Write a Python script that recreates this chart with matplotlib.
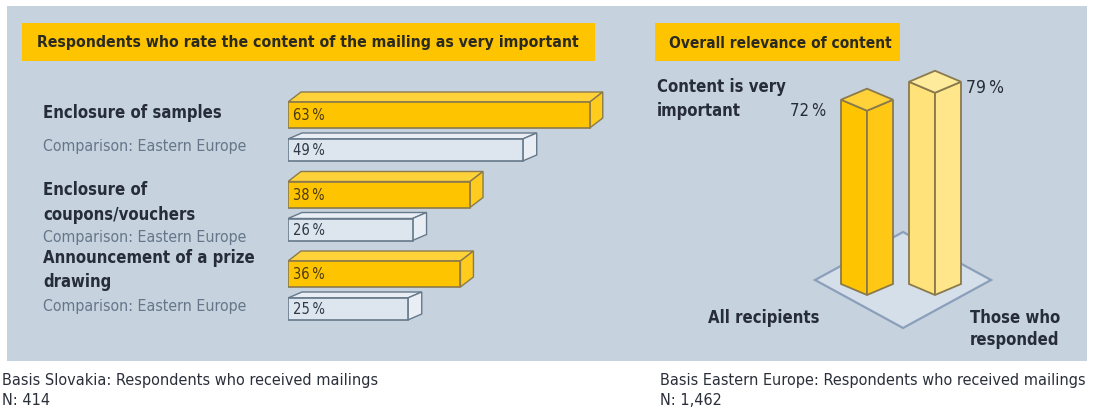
import matplotlib
matplotlib.use("Agg")
import matplotlib.pyplot as plt
from matplotlib.patches import Rectangle, Polygon

# ---------------------------------------------------------------- data
categories = ["Enclosure of samples",
              "Enclosure of\ncoupons/vouchers",
              "Announcement of a prize\ndrawing"]
slovakia = [63, 38, 36]
eastern_europe = [49, 26, 25]
comparison_label = "Comparison: Eastern Europe"

groups = ["All recipients", "Those who\nresponded"]
relevance = [72, 79]

left_title = "Respondents who rate the content of the mailing as very important"
right_title = "Overall relevance of content"
right_caption = "Content is very\nimportant"
left_note = ["Basis Slovakia: Respondents who received mailings", "N: 414"]
right_note = ["Basis Eastern Europe: Respondents who received mailings", "N: 1,462"]

# ---------------------------------------------------------------- style
W, H, DPI = 1093, 414, 100
plt.rcParams["font.family"] = ["DejaVu Sans"]
COND = dict(fontstretch="condensed")

PANEL = "#c6d3de"
GOLD = "#ffc400"
GOLD_TOP = "#ffd23a"
GOLD_SIDE = "#ffcb1c"
PALE = "#ffe27a"
PALE_TOP = "#ffeb9c"
PALE_SIDE = "#ffe68a"
GREY_FACE = "#dde5ee"
GREY_SIDE = "#e8eef4"
EDGE_GOLD = "#8a7a4c"
EDGE_GREY = "#66788a"
INK = "#262c38"
SUBINK = "#66768a"


def fig_rect(x0, y0, x1, y1):
    """Pixel box (top-left origin) -> figure fraction rect."""
    return [x0 / W, 1 - y1 / H, (x1 - x0) / W, (y1 - y0) / H]


fig = plt.figure(figsize=(W / DPI, H / DPI), dpi=DPI, facecolor="white")

# background canvas in pixel units
cv = fig.add_axes([0, 0, 1, 1])
cv.set_xlim(0, W)
cv.set_ylim(H, 0)
cv.axis("off")
cv.add_patch(Rectangle((7, 7), 1080, 355, facecolor=PANEL, edgecolor="none"))

# title boxes
cv.add_patch(Rectangle((22, 24), 573, 38, facecolor=GOLD, edgecolor="none"))
cv.text(37, 43, left_title, fontsize=11.3, fontweight="bold", color="#2a2a20",
        va="center", ha="left", **COND)
cv.add_patch(Rectangle((655, 24), 245, 38, facecolor=GOLD, edgecolor="none"))
cv.text(669, 43, right_title, fontsize=11.1, fontweight="bold", color="#2a2a20",
        va="center", ha="left", **COND)

# ---------------------------------------------------------------- left: horizontal 3D bars
PX_PCT = 4.79        # pixels per percent
ROW = 79.5           # pixels between groups
Y0 = 116             # pixel centre of the first group's main bar
X_AX0, X_AX1 = 288, 288 + PX_PCT * 70
Y_AX0, Y_AX1 = 60, 340
axl = fig.add_axes(fig_rect(X_AX0, Y_AX0, X_AX1, Y_AX1))
axl.set_xlim(0, 70)
axl.set_ylim((Y_AX1 - Y0) / ROW, (Y_AX0 - Y0) / ROW)
axl.axis("off")
axl.patch.set_visible(False)

h_main = 26 / ROW
h_comp = 22 / ROW
comp_off = 35 / ROW


def bar3d(ax, y, v, h, face, top, side, edge, dx_px, dy_px):
    dx = dx_px / PX_PCT
    dy = dy_px / ROW
    ax.barh([y], [v], height=h, left=0, color=face, edgecolor=edge,
            linewidth=1.2, zorder=3)
    yt = y - h / 2
    yb = y + h / 2
    ax.add_patch(Polygon([(0, yt), (v, yt), (v + dx, yt - dy), (dx, yt - dy)],
                         closed=True, facecolor=top, edgecolor=edge,
                         linewidth=1.0, zorder=2))
    ax.add_patch(Polygon([(v, yt), (v, yb), (v + dx, yb - dy), (v + dx, yt - dy)],
                         closed=True, facecolor=side, edgecolor=edge,
                         linewidth=1.0, zorder=2))


for i, (sk, ee) in enumerate(zip(slovakia, eastern_europe)):
    bar3d(axl, i + comp_off, ee, h_comp, GREY_FACE, GREY_SIDE, GREY_SIDE,
          EDGE_GREY, 14, 6)
    bar3d(axl, i, sk, h_main, GOLD, GOLD_TOP, GOLD_SIDE, EDGE_GOLD, 13, 10)
    axl.text(1.0, i, f"{sk}\u2009%", fontsize=10.5, color="#4a3a10",
             va="center", ha="left", zorder=5, **COND)
    axl.text(1.0, i + comp_off, f"{ee}\u2009%", fontsize=10.5, color="#2e3a48",
             va="center", ha="left", zorder=5, **COND)

# category labels
label_y = [113, 202.5, 270]
comp_y = [147, 238, 307]
for lab, ly, cy in zip(categories, label_y, comp_y):
    cv.text(43, ly, lab, fontsize=12, color=INK, va="center", ha="left",
            linespacing=1.45, fontweight="bold", **COND)
    cv.text(43, cy, comparison_label, fontsize=11.4, color=SUBINK,
            va="center", ha="left", **COND)

# ---------------------------------------------------------------- right: 3D columns
RPX = 2.56           # pixels per percent
BASE_Y = 296         # pixel row of value 0
COL0, COL_STEP = 867, 68
RX0, RX1, RY0, RY1 = 760, 1040, 40, 340
axr = fig.add_axes(fig_rect(RX0, RY0, RX1, RY1))
axr.set_xlim((RX0 - COL0) / COL_STEP, (RX1 - COL0) / COL_STEP)
axr.set_ylim((BASE_Y - RY1) / RPX, (BASE_Y - RY0) / RPX)
axr.axis("off")
axr.patch.set_visible(False)

hw = 26 / COL_STEP   # half width of a column
dd = 11 / RPX        # rise of the diamond edges

# floor plate under the columns
cx, cy = 0.53, 15 / RPX
fw, fh = 88 / COL_STEP, 48 / RPX
axr.add_patch(Polygon([(cx - fw, cy), (cx, cy - fh), (cx + fw, cy), (cx, cy + fh)],
                      closed=True, facecolor="#d5dfe9", edgecolor="#8b9fbb",
                      linewidth=1.6, zorder=1))

col_styles = [(GOLD, "#ffc814", GOLD_TOP), (PALE, PALE_SIDE, PALE_TOP)]
for i, (v, (lf, rf, tf)) in enumerate(zip(relevance, col_styles)):
    axr.add_patch(Polygon([(i - hw, dd), (i, 0), (i, v), (i - hw, v + dd)],
                          closed=True, facecolor=lf, edgecolor=EDGE_GOLD,
                          linewidth=1.3, zorder=3))
    axr.add_patch(Polygon([(i, 0), (i + hw, dd), (i + hw, v + dd), (i, v)],
                          closed=True, facecolor=rf, edgecolor=EDGE_GOLD,
                          linewidth=1.3, zorder=3))
    axr.add_patch(Polygon([(i, v), (i - hw, v + dd), (i, v + 2 * dd), (i + hw, v + dd)],
                          closed=True, facecolor=tf, edgecolor=EDGE_GOLD,
                          linewidth=1.3, zorder=4))

axr.text(-hw - 0.22, relevance[0] + dd * 0.1, f"{relevance[0]}\u2009%",
         fontsize=12, color=INK, va="center", ha="right", **COND)
axr.text(1 + hw + 0.08, relevance[1] + dd * 0.5, f"{relevance[1]}\u2009%",
         fontsize=12.5, color=INK, va="center", ha="left", **COND)

cv.text(657, 99, right_caption, fontsize=12, color=INK, va="center",
        ha="left", fontweight="bold", linespacing=1.4, **COND)
cv.text(708, 318, groups[0], fontsize=12, color=INK, va="center",
        ha="left", fontweight="bold", **COND)
cv.text(970, 329, groups[1], fontsize=12, color=INK, va="center",
        ha="left", fontweight="bold", linespacing=1.3, **COND)

# ---------------------------------------------------------------- footnotes
for x, lines in ((2, left_note), (660, right_note)):
    cv.text(x, 381, lines[0], fontsize=11.6, color="#2a2f3a", va="center",
            ha="left", **COND)
    cv.text(x, 401, lines[1], fontsize=11.6, color="#2a2f3a", va="center",
            ha="left", **COND)

fig.savefig("out.png", dpi=DPI, facecolor="white")
